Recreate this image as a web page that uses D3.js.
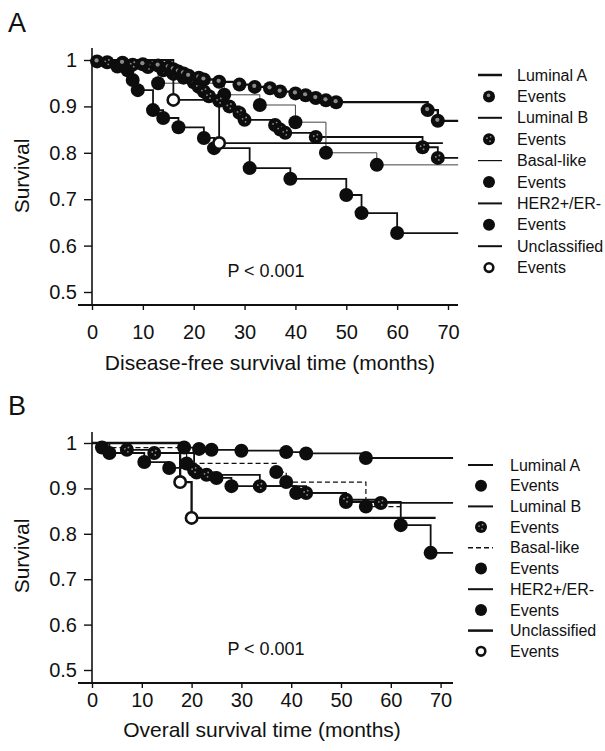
<!DOCTYPE html>
<html>
<head>
<meta charset="utf-8">
<script src="https://cdn.jsdelivr.net/npm/d3@7"></script>
<style>
  body { margin: 0; background: #fff; }
  text { font-family: "Liberation Sans", Arial, sans-serif; fill: #111; }
</style>
</head>
<body>
<svg id="fig" width="605" height="751"></svg>
<script>
// ---- data ----
const monthTicks = [0, 10, 20, 30, 40, 50, 60, 70];
const survivalTicks = [0.5, 0.6, 0.7, 0.8, 0.9, 1];
const subtypes = ['Luminal A', 'Luminal B', 'Basal-like', 'HER2+/ER-', 'Unclassified'];

// disease-free survival, [month, survival after event]
const dfsLuminalA = [[1, 0.997], [6, 0.994], [10, 0.991], [13, 0.988], [15, 0.984], [16, 0.98], [17, 0.975],
  [18, 0.971], [19, 0.966], [21, 0.962], [22, 0.958], [25, 0.953], [29, 0.947], [32, 0.942], [35, 0.939],
  [37, 0.932], [40, 0.928], [42, 0.924], [44, 0.918], [46, 0.913], [48, 0.909], [66, 0.892], [68, 0.869]];
const dfsLuminalB = [[3, 0.995], [8, 0.99], [11, 0.985], [14, 0.978], [16, 0.97], [18, 0.962], [20, 0.952],
  [21, 0.942], [22, 0.932], [23, 0.922], [25, 0.912], [27, 0.9], [29, 0.886], [30, 0.871], [36, 0.86],
  [37, 0.85], [38, 0.843], [44, 0.834], [65, 0.812], [68, 0.789]];
const dfsBasal = [[13, 0.95], [26, 0.925], [33, 0.903], [40, 0.866], [46, 0.8], [56, 0.774]];
const dfsHer2 = [[5, 0.986], [7, 0.978], [8, 0.957], [9, 0.935], [12, 0.892], [14, 0.875], [17, 0.855],
  [22, 0.832], [24, 0.81], [31, 0.767], [39, 0.744], [50, 0.709], [53, 0.67], [60, 0.627]];
const dfsUnclassified = [[16, 0.914], [25, 0.821]];
const dfsLastFollowUp = [72, 72, 72, 72, 69];

// overall survival
const osLuminalA = [[18.5, 0.99], [21.5, 0.987], [24, 0.985], [30, 0.983], [39, 0.98], [43, 0.977], [55, 0.967]];
const osLuminalB = [[7, 0.985], [12.5, 0.978], [20.5, 0.94], [23, 0.93], [33.7, 0.905], [43, 0.89],
  [51, 0.875], [58, 0.868]];
const osBasal = [[2, 0.99], [19, 0.955], [37, 0.936], [39, 0.914], [55, 0.86]];
const osHer2 = [[3.5, 0.978], [10.5, 0.958], [15.5, 0.945], [21, 0.935], [25, 0.923], [28, 0.905],
  [41, 0.89], [51, 0.87], [62, 0.819], [68, 0.758]];
const osUnclassified = [[17.7, 0.914], [20, 0.835]];
const osLastFollowUp = [72.5, 72.5, 62, 72.5, 69];

// ---- panel setup ----
const panels = [
  {
    label: 'A', labelY: 32,
    title: 'Disease-free survival time (months)', titleX: 270, titleY: 370,
    series: [dfsLuminalA, dfsLuminalB, dfsBasal, dfsHer2, dfsUnclassified],
    lastFollowUp: dfsLastFollowUp,
    xRange: [92, 448], yRange: [292, 60], axisY: 305, xEnd: 458, yTop: 48,
    tickLabelY: 339, survivalY: 176, pY: 277,
    markers: ['spot', 'speckle', 'dot', 'dot', 'open'],
    widths: [2.3, 1.8, 1, 1.8, 1.8],
    dashes: [null, null, null, null, null],
    legend: { x1: 478, x2: 502, mx: 489, tx: 517, y0: 75, dy: 21.4 }
  },
  {
    label: 'B', labelY: 415,
    title: 'Overall survival time (months)', titleX: 262, titleY: 737,
    series: [osLuminalA, osLuminalB, osBasal, osHer2, osUnclassified],
    lastFollowUp: osLastFollowUp,
    xRange: [92, 440.6], yRange: [670, 443], axisY: 683, xEnd: 453, yTop: 432,
    tickLabelY: 707, survivalY: 556, pY: 655,
    markers: ['dot', 'speckle', 'dot', 'dot', 'open'],
    widths: [1.8, 1.8, 1.2, 1.8, 2.3],
    dashes: [null, null, '5,3', null, null],
    legend: { x1: 468, x2: 493, mx: 481, tx: 510, y0: 465, dy: 20.7 }
  }
];

const svg = d3.select('#fig');

function drawMarker(g, style, cx, cy, r) {
  const m = g.append('g').attr('transform', `translate(${cx},${cy})`);
  if (style === 'open') {
    m.append('circle').attr('r', r - 1.3).attr('fill', '#fff').attr('stroke', '#111').attr('stroke-width', 2.6);
    return;
  }
  m.append('circle').attr('r', r).attr('fill', '#0d0d0d');
  if (style === 'spot') {
    m.append('circle').attr('cx', -0.5).attr('cy', -1).attr('r', r * 0.3).attr('fill', '#8a8a8a');
  } else if (style === 'speckle') {
    [[-2, -1], [1.6, -2.4], [1, 2]].forEach(([dx, dy]) => {
      m.append('circle').attr('cx', dx).attr('cy', dy).attr('r', 0.9).attr('fill', '#8c8c8c');
    });
  }
}

panels.forEach((p) => {
  const x = d3.scaleLinear().domain([0, 70]).range(p.xRange);
  const y = d3.scaleLinear().domain([0.5, 1]).range(p.yRange);
  const g = svg.append('g');

  // panel letter
  g.append('text').attr('x', 8).attr('y', p.labelY).style('font-size', '27px').text(p.label);

  // y axis
  const yAxis = g.append('g').attr('transform', `translate(${x(0)},0)`)
    .call(d3.axisLeft(y).tickValues(survivalTicks).tickSize(8).tickPadding(7)
      .tickFormat((d) => (d === 1 ? '1' : d.toFixed(1))));
  yAxis.select('.domain').remove();
  yAxis.selectAll('line').attr('stroke', '#111').attr('stroke-width', 1.4);
  yAxis.selectAll('text').style('font-size', '20px').attr('fill', '#111');
  g.append('line').attr('x1', x(0)).attr('x2', x(0)).attr('y1', p.yTop).attr('y2', p.axisY)
    .attr('stroke', '#111').attr('stroke-width', 1.6);

  // x axis
  const xAxis = g.append('g').attr('transform', `translate(0,${p.axisY})`)
    .call(d3.axisBottom(x).tickValues(monthTicks).tickSize(5).tickPadding(0).tickFormat(d3.format('d')));
  xAxis.select('.domain').remove();
  xAxis.selectAll('line').attr('stroke', '#111').attr('stroke-width', 1.4);
  xAxis.selectAll('text').style('font-size', '20px').attr('fill', '#111')
    .attr('dy', null).attr('y', p.tickLabelY - p.axisY);
  g.append('line').attr('x1', 78).attr('x2', p.xEnd).attr('y1', p.axisY).attr('y2', p.axisY)
    .attr('stroke', '#111').attr('stroke-width', 1.8);

  // axis titles
  g.append('text').attr('x', p.titleX).attr('y', p.titleY).attr('text-anchor', 'middle')
    .style('font-size', '21px').text(p.title);
  g.append('text').attr('transform', `translate(29,${p.survivalY}) rotate(-90)`)
    .attr('text-anchor', 'middle').style('font-size', '21px').text('Survival');

  g.append('text').attr('x', 266).attr('y', p.pY).attr('text-anchor', 'middle')
    .style('font-size', '18px').text('P < 0.001');

  // survival curves
  const line = d3.line().x((d) => x(d[0])).y((d) => y(d[1])).curve(d3.curveStepAfter);
  p.series.forEach((events, i) => {
    const last = events[events.length - 1][1];
    const pts = [[0, 1], ...events, [p.lastFollowUp[i], last]];
    g.append('path').attr('d', line(pts)).attr('fill', 'none')
      .attr('stroke', i === 2 && p.label === 'A' ? '#444' : '#111')
      .attr('stroke-width', p.widths[i])
      .attr('stroke-dasharray', p.dashes[i]);
  });
  // event markers on top, drawn back to front
  [2, 3, 1, 0, 4].forEach((i) => {
    p.series[i].forEach((d) => drawMarker(g, p.markers[i], x(d[0]), y(d[1]), 7));
  });

  // legend
  const L = p.legend;
  subtypes.forEach((name, i) => {
    const ly = L.y0 + L.dy * 2 * i;
    const ey = ly + L.dy;
    g.append('line').attr('x1', L.x1).attr('x2', L.x2).attr('y1', ly).attr('y2', ly)
      .attr('stroke', '#111').attr('stroke-width', p.widths[i] + 0.2)
      .attr('stroke-dasharray', p.dashes[i]);
    g.append('text').attr('x', L.tx).attr('y', ly).attr('dy', '0.35em').style('font-size', '16px').text(name);
    drawMarker(g, p.markers[i], L.mx, ey, p.markers[i] === 'open' ? 5.6 : 6);
    g.append('text').attr('x', L.tx).attr('y', ey).attr('dy', '0.35em').style('font-size', '16px').text('Events');
  });
});
</script>
</body>
</html>
